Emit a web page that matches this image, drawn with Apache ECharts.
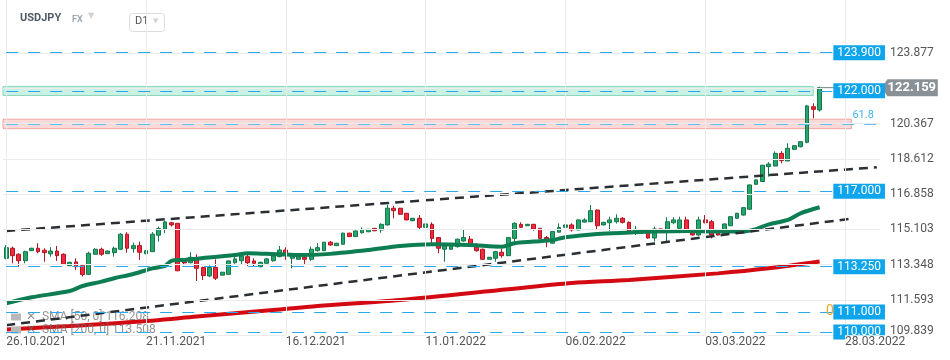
<!DOCTYPE html>
<html><head><meta charset="utf-8">
<script src="https://cdn.jsdelivr.net/npm/echarts@6/dist/echarts.min.js"></script>
<style>html,body{margin:0;padding:0;background:#fff}#c{width:950px;height:360px}</style>
</head><body><div id="c"></div>
<script>
// ---- data (USDJPY, D1) ----
const opens = [
113.67,114.17,113.87,113.55,114.05,114.17,114.07,113.89,114.03,113.87,
113.30,113.49,113.30,112.87,113.87,114.12,113.90,113.95,114.12,114.87,
114.15,114.30,113.90,114.00,114.82,115.12,115.44,115.41,113.52,113.45,
113.64,113.21,112.79,113.21,112.83,112.87,113.45,113.55,113.75,113.54,
113.25,113.42,113.55,113.75,114.08,113.67,113.62,113.72,113.62,114.05,
114.05,114.47,114.30,114.37,114.92,114.75,114.94,114.99,115.16,115.08,
115.33,116.16,116.16,115.91,115.54,115.66,115.21,115.36,114.70,114.12,
114.12,114.25,114.53,114.62,114.22,114.12,113.62,113.67,113.97,113.80,
114.66,115.36,115.29,115.36,115.16,114.70,114.42,114.97,115.21,115.33,
115.08,115.47,115.49,116.07,115.33,115.44,115.49,115.66,115.46,114.92,
114.98,115.01,114.68,115.13,114.99,115.44,115.16,115.58,115.01,114.83,
115.58,115.49,114.92,114.88,115.29,115.66,115.82,116.11,117.35,117.49,
118.23,118.26,118.89,118.51,119.09,119.22,119.44,121.21,121.05];
const closes = [
114.20,113.80,113.55,114.00,114.17,114.00,113.95,114.03,113.80,113.37,
113.47,113.25,112.86,113.92,114.12,113.87,114.03,114.17,114.87,114.17,
114.30,113.97,114.05,114.87,115.15,115.48,115.33,113.05,113.44,113.72,
113.17,112.81,113.21,112.68,112.98,113.54,113.64,113.79,113.45,113.42,
113.47,113.64,113.79,114.08,113.87,113.80,113.75,113.62,114.12,114.20,
114.47,114.33,114.42,114.92,114.75,115.03,115.11,115.11,115.04,115.36,
116.16,116.04,115.86,115.58,115.66,115.21,115.38,114.66,114.17,114.28,
114.28,114.62,114.70,114.38,114.05,113.62,113.72,114.00,113.80,114.70,
115.41,115.21,115.36,115.13,114.66,114.50,115.00,115.20,115.33,115.08,
115.58,115.58,116.04,115.29,115.46,115.58,115.66,115.46,114.99,115.11,
115.02,114.68,115.13,115.04,115.49,115.58,115.58,115.01,114.83,115.58,
115.44,114.83,114.83,115.38,115.74,115.91,116.19,117.32,117.57,118.30,
118.36,118.89,118.53,119.14,119.27,119.47,121.25,121.08,122.159];
const lows = [
113.62,113.42,113.25,113.42,114.03,113.92,113.50,113.75,113.54,113.33,
113.30,113.09,112.76,112.83,113.84,113.79,113.88,113.75,114.08,113.95,
113.95,113.59,113.87,114.00,114.50,114.92,115.25,113.03,113.33,113.42,
112.54,112.59,112.73,112.59,112.83,112.85,113.40,113.34,113.29,113.25,
113.22,113.40,113.50,113.72,113.59,113.17,113.60,113.39,113.54,114.00,
114.03,114.30,114.28,114.35,114.73,114.73,114.90,114.97,115.02,114.94,
115.30,115.66,115.84,115.56,115.52,115.08,115.20,114.42,113.92,113.50,
114.10,114.20,114.50,114.35,114.00,113.60,113.60,113.50,113.70,113.78,
114.50,115.18,115.27,115.04,114.64,114.22,114.40,114.95,115.20,115.00,
115.06,115.45,115.47,115.08,115.31,115.04,115.40,115.40,114.87,114.83,
114.93,114.65,114.50,114.98,114.45,115.37,114.92,114.92,114.80,114.78,
115.41,114.66,114.80,114.85,115.27,115.64,115.80,116.09,117.33,117.47,
117.73,118.25,118.40,118.50,119.07,119.19,119.39,120.64,120.97];
const highs = [
114.33,114.25,113.92,114.05,114.19,114.42,114.17,114.22,114.28,113.92,
113.50,113.67,113.30,114.00,114.17,114.20,114.06,114.25,114.92,114.97,
114.45,114.50,114.08,114.97,115.25,115.54,115.48,115.41,113.59,113.97,
113.87,113.26,113.32,113.62,112.98,113.56,113.75,113.95,113.84,113.67,
113.50,113.69,113.87,114.28,114.22,113.85,113.77,113.80,114.25,114.42,
114.49,114.53,114.44,114.95,114.94,115.05,115.21,115.13,115.18,115.41,
116.32,116.28,116.18,115.93,115.68,115.82,115.66,115.46,114.72,114.42,
114.35,114.65,115.08,114.78,114.42,114.15,113.74,114.04,114.14,114.72,
115.46,115.46,115.38,115.38,115.18,114.78,115.03,115.41,115.35,115.41,
115.60,115.66,116.32,116.10,115.48,115.74,115.86,115.72,115.50,115.28,
115.08,115.03,115.25,115.15,115.71,115.71,115.74,115.74,115.03,115.74,
115.82,115.58,114.95,115.40,115.76,115.93,116.21,117.34,117.59,118.32,
118.45,118.99,119.00,119.39,119.30,119.48,121.30,121.38,122.21];

// moving averages, read at candle indices [index, value]
const sma50 = [[0,111.43],[4,111.73],[10,112.04],[12,112.29],[15,112.51],[17,112.68],[20,112.89],
  [23,113.17],[25,113.29],[26,113.54],[28,113.59],[30,113.65],[36,113.83],[38,113.92],[41,113.89],
  [46,113.83],[51,113.89],[57,114.08],[62,114.28],[67,114.37],[73,114.33],[78,114.25],[80,114.42],
  [83,114.50],[86,114.58],[88,114.72],[93,114.88],[98,114.95],[102,115.00],[107,115.03],[112,115.00],
  [116,115.00],[118,115.12],[120,115.36],[123,115.58],[125,115.91],[128,116.21]];
const sma200 = [[0,110.13],[10,110.30],[20,110.50],[30,110.77],[42,111.10],[49,111.30],[62,111.60],
  [79,112.13],[89,112.44],[98,112.59],[112,112.92],[120,113.17],[128,113.51]];
const smaNames = ['SMA [50, 0] 116.208', 'SMA [200, 0] 113.508'];

// channel trend lines [index, value]
const trendUpper = [[0,115.03],[137,118.20]];
const trendLower = [[0,110.34],[133,115.64]];

// horizontal levels
const levels = [123.900, 122.000, 117.000, 113.250, 111.000, 110.000];
const fibLevel = 120.34, fibText = '61.8';
const fibZeroLevel = 111.000, fibZeroText = '0';
const greenZone = [122.22, 121.77], greenZoneEnd = 127;
const redZone = [120.59, 120.12], redZoneEnd = 133;
const lastClose = 122.159;

// axes
const N_CATS = 138;
const xTickIdx = [0, 22, 44, 66, 88, 110, 132];
const xTickLabels = ['26.10.2021','21.11.2021','16.12.2021','11.01.2022','06.02.2022','03.03.2022','28.03.2022'];
const yTickLabels = ['109.839','111.593','113.348','115.103','116.858','118.612','120.367','122.122','123.877'];
const Y_MIN = 109.839, Y_STEP = 1.75475, Y_MAX = 126.52;

// ---- build ----
const cats = Array.from({length: N_CATS}, (_, i) => String(i));
const candles = opens.map((o, i) => [o, closes[i], lows[i], highs[i]]);
const yTickVals = yTickLabels.map(Number);
const FONT = 'Roboto';

const levelLabel = (v) => ({
  show: true, position: 'end', distance: 1, color: '#fff', backgroundColor: '#0ea5ec',
  fontSize: 12, fontFamily: FONT, padding: [2, 4, 1, 4], formatter: v.toFixed(3)
});

const chart = echarts.init(document.getElementById('c'), null, {renderer: 'canvas'});
chart.setOption({
  animation: false,
  backgroundColor: '#fff',
  grid: {left: 3, right: 70, top: 0, bottom: 24.7},
  legend: {
    orient: 'vertical', left: 6, top: 306, itemGap: 1, itemWidth: 10, itemHeight: 7,
    icon: 'rect', selectedMode: false, data: smaNames,
    itemStyle: {color: '#b8b8b8'},
    textStyle: {color: 'rgba(110,110,110,0.75)', fontSize: 12, fontFamily: FONT},
    formatter: n => '\u2715  ' + n
  },
  xAxis: {
    type: 'category', data: cats, boundaryGap: true, z: 10,
    axisLine: {show: false}, axisTick: {show: false}, splitLine: {show: false},
    axisLabel: {
      interval: (i) => xTickIdx.includes(i),
      formatter: (v) => { const k = xTickIdx.indexOf(Number(v)); return k >= 0 ? xTickLabels[k] : ''; },
      align: 'left', margin: 0, padding: [1, 2, 0, 0], backgroundColor: '#fff',
      color: '#555', fontSize: 12, fontFamily: FONT
    }
  },
  yAxis: {
    type: 'value', position: 'right', min: Y_MIN, max: Y_MAX, interval: Y_STEP,
    axisLine: {show: false}, axisTick: {show: false}, splitLine: {show: false},
    axisLabel: {
      margin: 10, color: '#555', fontSize: 12, fontFamily: FONT, showMaxLabel: false,
      formatter: (v) => {
        const k = Math.round((v - Y_MIN) / Y_STEP);
        if (k < 0 || k >= yTickLabels.length || Math.abs(v - (Y_MIN + k * Y_STEP)) > 1e-4) return '';
        if (Math.abs(v - lastClose) < 0.5) return '';
        return k === 0 ? '{lo|' + yTickLabels[k] + '}' : yTickLabels[k];
      },
      rich: {lo: {padding: [0, 0, 9, 0], color: '#555', fontSize: 12, fontFamily: FONT}}
    }
  },
  graphic: [
    {type: 'text', left: 20, top: 13, style: {text: 'USDJPY', font: 'bold 11px Roboto', fill: '#505a64'}},
    {type: 'text', left: 72, top: 15, style: {text: 'FX', font: 'bold 9px Roboto', fill: '#9aa8b4'}},
    {type: 'text', left: 88, top: 12, style: {text: '\u25BC', font: '8px DejaVu Sans', fill: '#cfd3d7'}},
    {type: 'rect', left: 129, top: 13, shape: {width: 35, height: 18, r: 3}, style: {fill: '#fff', stroke: '#dcdcdc', lineWidth: 1}},
    {type: 'text', left: 135, top: 16, style: {text: 'D1', font: '11px Roboto', fill: '#555'}},
    {type: 'text', left: 153, top: 18, style: {text: '\u25BC', font: '7px DejaVu Sans', fill: '#cfd3d7'}}
  ],
  series: [
    { // grid lines & zones
      type: 'line', data: [], z: 0, silent: true,
      markLine: {
        silent: true, symbol: ['none', 'none'], label: {show: false},
        lineStyle: {color: '#ececec', width: 1, type: 'solid'},
        data: yTickVals.map(v => ({yAxis: v})).concat(xTickIdx.map(i => ({xAxis: i})))
      },
      markArea: {
        silent: true,
        data: [
          [{yAxis: greenZone[0], itemStyle: {color: 'rgba(70,205,160,0.28)', borderColor: '#86d8bb', borderWidth: 1}},
           {xAxis: greenZoneEnd, yAxis: greenZone[1]}],
          [{yAxis: redZone[0], itemStyle: {color: 'rgba(245,120,120,0.28)', borderColor: '#f3a3a3', borderWidth: 1}},
           {xAxis: redZoneEnd, yAxis: redZone[1]}]
        ]
      }
    },
    { // fib zero label (partly hidden behind the 111.000 box)
      type: 'line', data: [], z: 1, silent: true,
      markLine: {
        silent: true, symbol: ['none', 'none'],
        lineStyle: {color: 'rgba(0,0,0,0)', width: 1},
        data: [[{xAxis: 0, yAxis: fibZeroLevel,
            label: {show: true, position: 'end', distance: 0, formatter: fibZeroText, color: '#f5a623', fontSize: 14, fontFamily: FONT}},
           {xAxis: 129, yAxis: fibZeroLevel}]]
      }
    },
    { // fib & level lines
      type: 'line', data: [], z: 1, silent: true,
      markLine: {
        silent: true, symbol: ['none', 'none'],
        lineStyle: {color: '#28a9ef', width: 1.2, type: [12, 10]},
        data: [
          [{xAxis: 0, yAxis: fibLevel, lineStyle: {color: '#5dbcf2'},
            label: {show: true, position: 'insideEndTop', distance: 3, formatter: fibText, color: '#3db2f0', fontSize: 11, fontFamily: FONT}},
           {xAxis: 137, yAxis: fibLevel}]
        ].concat(levels.map(v => [{xAxis: 0, yAxis: v, label: levelLabel(v)}, {xAxis: 130, yAxis: v}]))
      }
    },
    {
      type: 'candlestick', name: 'USDJPY', data: candles, z: 2, barWidth: '68%',
      itemStyle: {color: '#27a56c', color0: '#ee2a3e', borderColor: '#13784b', borderColor0: '#b3141f', borderWidth: 1}
    },
    {
      type: 'line', name: smaNames[0], data: sma50, z: 3, symbol: 'none', smooth: 0.3,
      lineStyle: {color: '#0d7d52', width: 4}, itemStyle: {color: '#0d7d52'}
    },
    {
      type: 'line', name: smaNames[1], data: sma200, z: 3, symbol: 'none', smooth: 0.3,
      lineStyle: {color: '#d40a12', width: 4}, itemStyle: {color: '#d40a12'}
    },
    {
      type: 'line', data: trendUpper, z: 4, symbol: 'none',
      lineStyle: {color: '#2a2f34', width: 2.5, type: [9, 6]}
    },
    {
      type: 'line', data: trendLower, z: 4, symbol: 'none',
      lineStyle: {color: '#2a2f34', width: 2.5, type: [9, 6]}
    },
    { // last price line + tag
      type: 'line', data: [], z: 5, clip: false, silent: true,
      markLine: {
        silent: true, symbol: ['none', 'none'], label: {show: false},
        lineStyle: {color: '#8a9297', width: 1, type: 'solid'},
        data: [[{xAxis: 128, yAxis: lastClose}, {xAxis: 137, yAxis: lastClose}]]
      },
      markPoint: {
        silent: true,
        data: [{
          coord: [137, lastClose], symbol: 'path://M0,8 L6,0 L60,0 L60,16 L6,16 Z',
          symbolSize: [56, 17], symbolOffset: [33, 0], symbolKeepAspect: false,
          itemStyle: {color: '#899196'},
          label: {show: true, position: 'inside', offset: [2, 0], formatter: lastClose.toFixed(3),
                  color: '#fff', fontSize: 13, fontWeight: 'bold', fontFamily: FONT}
        }]
      }
    }
  ]
});
</script>
</body></html>
